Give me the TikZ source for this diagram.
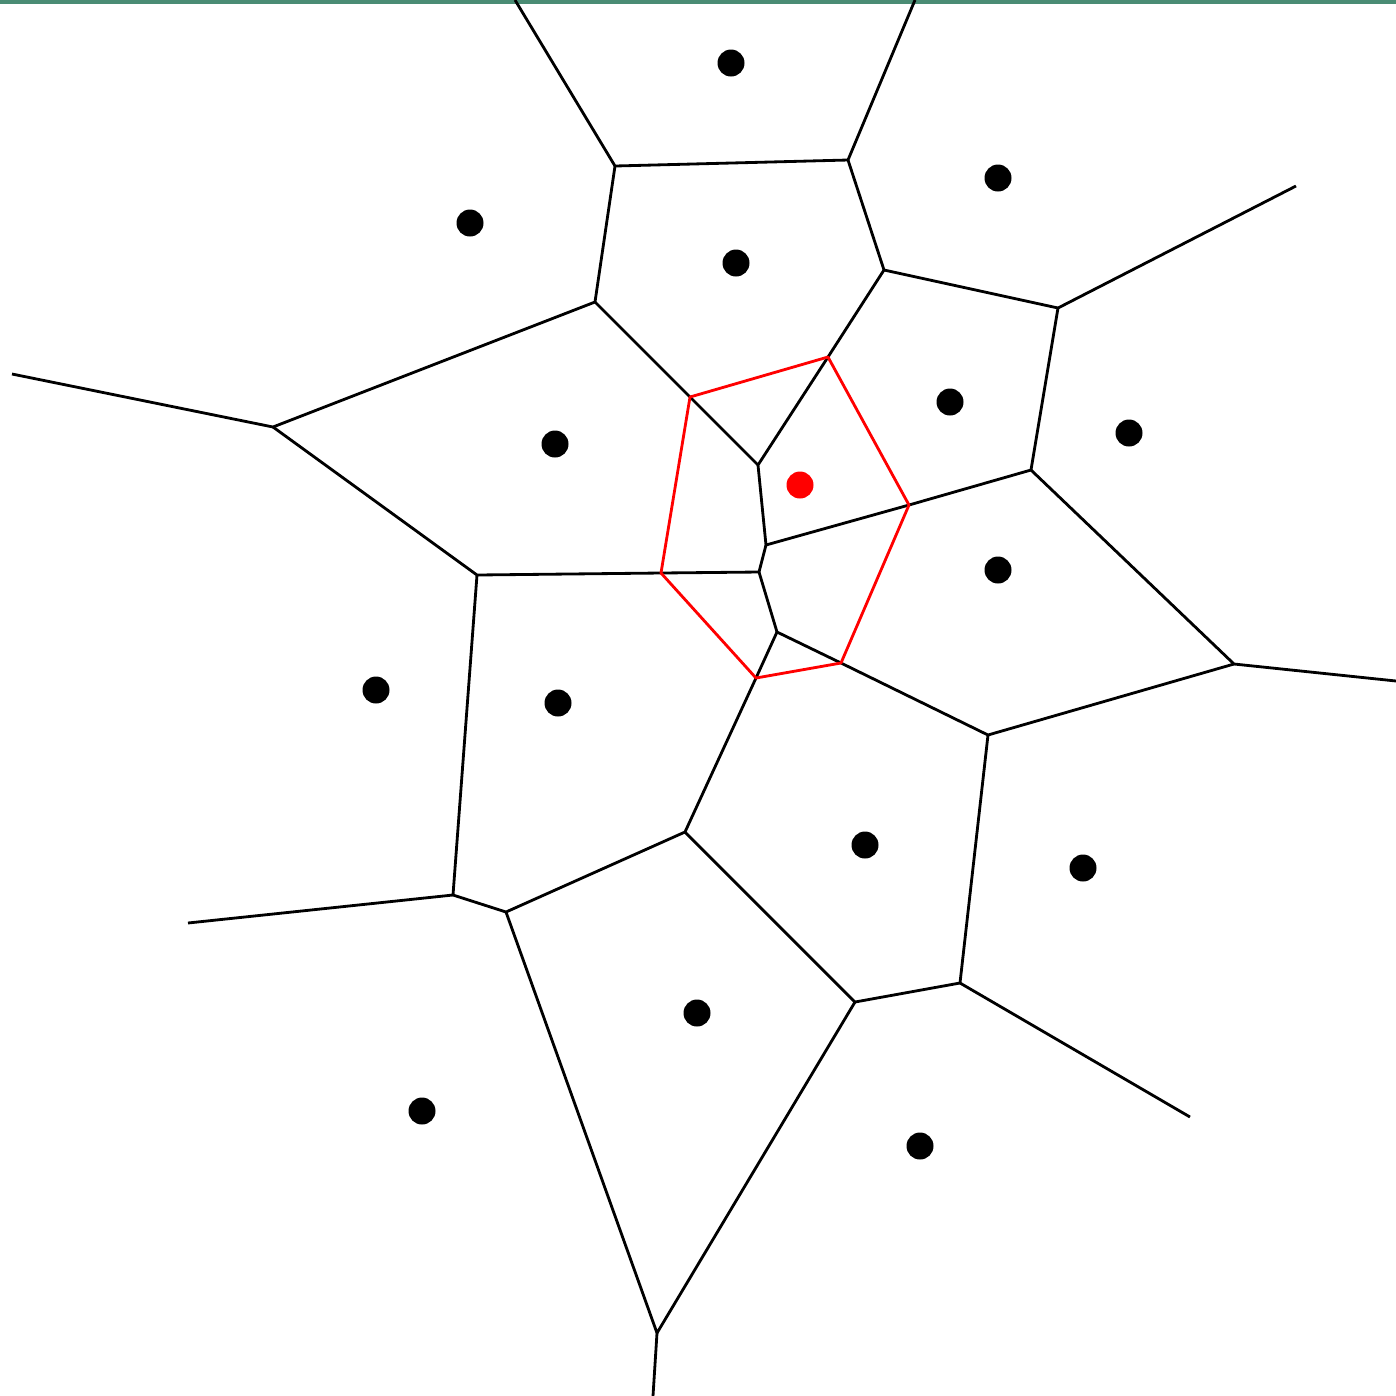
\documentclass[tikz,border=0pt]{standalone}
\usepackage{tikz}

\definecolor{topbar}{HTML}{4A8C74}

\begin{document}
\begin{tikzpicture}[x=0.01cm,y=-0.01cm,line width=0.8pt,line join=round]
\useasboundingbox (0,0) rectangle (1396,1396);
\clip (0,0) rectangle (1396,1396);
\fill[topbar] (0,0) rectangle (1396,3.5);
% vertices of the diagram
\coordinate (a) at (515,0);   \coordinate (b) at (615,166);
\coordinate (c) at (915,0);   \coordinate (d) at (848,160);
\coordinate (e) at (595,302); \coordinate (f) at (884,270);
\coordinate (g) at (1058,308);\coordinate (h) at (1296,186);
\coordinate (i) at (1031,470);\coordinate (j) at (828,357);
\coordinate (k) at (758,465); \coordinate (l) at (690,397);
\coordinate (m) at (273,427); \coordinate (n) at (12,374);
\coordinate (o) at (477,575); \coordinate (p) at (661,573);
\coordinate (q) at (759,572); \coordinate (r) at (766,545);
\coordinate (s) at (909,505); \coordinate (t) at (1234,664);
\coordinate (u) at (1396,681);\coordinate (v) at (988,735);
\coordinate (w) at (777,632); \coordinate (x) at (841,663);
\coordinate (y) at (756,678); \coordinate (z) at (685,832);
\coordinate (aa) at (453,895);\coordinate (bb) at (188,923);
\coordinate (cc) at (506,912);\coordinate (dd) at (855,1002);
\coordinate (ee) at (960,983);\coordinate (ff) at (1190,1117);
\coordinate (gg) at (657,1333);\coordinate (hh) at (653,1396);
% cell edges
\draw (a)--(b)--(d)--(c);
\draw (b)--(e)--(m)--(n);
\draw (d)--(f)--(g)--(h);
\draw (g)--(i)--(s)--(r)--(k)--(j)--(f);
\draw (e)--(l)--(k);
\draw (m)--(o)--(p)--(q)--(r);
\draw (i)--(t)--(u);
\draw (t)--(v)--(x)--(w)--(q);
\draw (w)--(y)--(z)--(cc)--(aa)--(o);
\draw (aa)--(bb);
\draw (z)--(dd)--(ee)--(v);
\draw (ee)--(ff);
\draw (dd)--(gg)--(cc);
\draw (gg)--(hh);
% second ring
\draw[red] (l)--(j)--(s)--(x)--(y)--(p)--cycle;
% sites
\foreach \px/\py in {731/63,998/178,470/223,736/263,950/402,555/444,1129/433,
  998/570,376/690,558/703,865/845,1083/868,697/1013,422/1111,920/1146}
  \fill (\px,\py) circle (13.5);
\fill[red] (800,485) circle (13.5);
\end{tikzpicture}
\end{document}
